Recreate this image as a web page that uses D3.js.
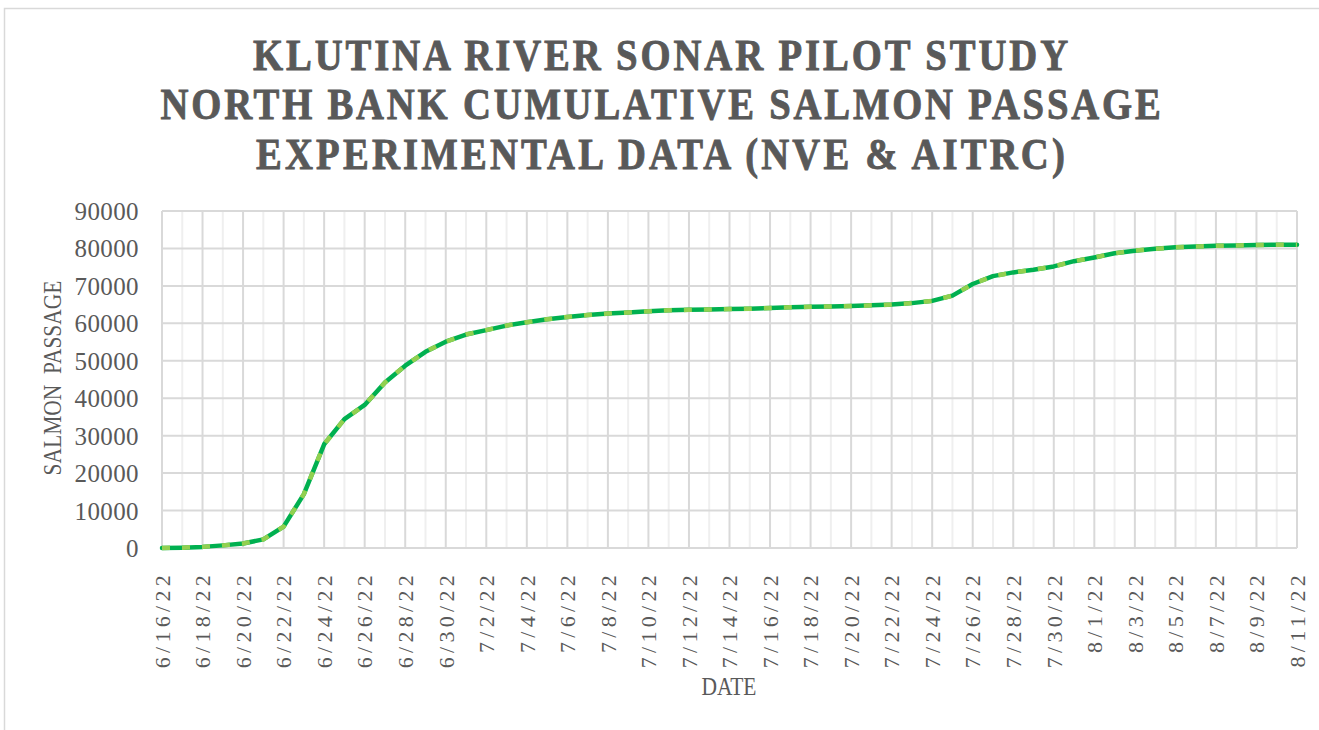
<!DOCTYPE html>
<html>
<head>
<meta charset="utf-8">
<script src="https://cdn.jsdelivr.net/npm/d3@7"></script>
<style>
  html, body { margin: 0; padding: 0; background: #fff; }
  svg { display: block; }
</style>
</head>
<body>
<svg id="chart" width="1319" height="730"></svg>
<script>
const titleLines = [
  "KLUTINA RIVER SONAR PILOT STUDY",
  "NORTH BANK CUMULATIVE SALMON PASSAGE",
  "EXPERIMENTAL DATA (NVE & AITRC)"
];
const yAxisTitle = "SALMON  PASSAGE";
const xAxisTitle = "DATE";

const dates = [
  "6/16/22","6/17/22","6/18/22","6/19/22","6/20/22","6/21/22","6/22/22","6/23/22",
  "6/24/22","6/25/22","6/26/22","6/27/22","6/28/22","6/29/22","6/30/22",
  "7/1/22","7/2/22","7/3/22","7/4/22","7/5/22","7/6/22","7/7/22","7/8/22","7/9/22",
  "7/10/22","7/11/22","7/12/22","7/13/22","7/14/22","7/15/22","7/16/22","7/17/22",
  "7/18/22","7/19/22","7/20/22","7/21/22","7/22/22","7/23/22","7/24/22","7/25/22",
  "7/26/22","7/27/22","7/28/22","7/29/22","7/30/22","7/31/22",
  "8/1/22","8/2/22","8/3/22","8/4/22","8/5/22","8/6/22","8/7/22","8/8/22",
  "8/9/22","8/10/22","8/11/22"
];

const passage = [
  0, 100, 300, 700, 1200, 2300, 5700, 14400,
  27700, 34400, 38200, 44200, 48700, 52400, 55100,
  57000, 58200, 59400, 60300, 61100, 61700, 62200, 62600, 62900,
  63200, 63500, 63600, 63700, 63800, 63900, 64100, 64300,
  64400, 64500, 64600, 64800, 65000, 65400, 66000, 67400,
  70500, 72600, 73600, 74300, 75200, 76600,
  77600, 78700, 79400, 79900, 80300, 80500, 80700, 80800,
  80900, 81000, 81000
];

const yTicks = [0, 10000, 20000, 30000, 40000, 50000, 60000, 70000, 80000, 90000];

const svg = d3.select("#chart");
const textColor = "#595959";
const gridColor = "#d9d9d9";
const minorGrid = "#efefef";
const serif = "'Liberation Serif', 'Times New Roman', serif";

const plot = { left: 162, right: 1297, top: 211, bottom: 548 };

const x = d3.scalePoint().domain(dates).range([plot.left, plot.right]);
const y = d3.scaleLinear().domain([0, 90000]).range([plot.bottom, plot.top]);

// chart border
svg.append("rect")
  .attr("x", 4.5).attr("y", 8.5).attr("width", 1340).attr("height", 760)
  .attr("fill", "none").attr("stroke", gridColor).attr("stroke-width", 1.5);

// vertical gridlines (every day; labelled days darker)
svg.append("g").selectAll("line").data(dates).join("line")
  .attr("x1", d => x(d)).attr("x2", d => x(d))
  .attr("y1", plot.top).attr("y2", plot.bottom)
  .attr("stroke", (d, i) => i % 2 === 0 ? gridColor : minorGrid)
  .attr("stroke-width", 2);

// horizontal gridlines
svg.append("g").selectAll("line").data(yTicks).join("line")
  .attr("x1", plot.left).attr("x2", plot.right)
  .attr("y1", d => y(d)).attr("y2", d => y(d))
  .attr("stroke", gridColor).attr("stroke-width", 2);

// Y axis labels
const yAxis = d3.axisLeft(y).tickValues(yTicks).tickSize(0).tickPadding(0).tickFormat(d3.format("d"));
const yg = svg.append("g").attr("transform", `translate(${plot.left - 23},0)`).call(yAxis);
yg.select(".domain").remove();
yg.selectAll("text")
  .attr("font-family", serif).attr("font-size", 25).attr("fill", textColor)
  .attr("letter-spacing", 0.4)
  .attr("dy", "0.34em");

// X axis labels (every second date)
const xLabelDates = dates.filter((d, i) => i % 2 === 0);
const xAxis = d3.axisBottom(x).tickValues(xLabelDates).tickSize(0).tickPadding(0);
const xg = svg.append("g").attr("transform", `translate(0,${plot.bottom})`).call(xAxis);
xg.select(".domain").remove();
xg.selectAll("text")
  .attr("font-family", serif).attr("font-size", 22).attr("fill", textColor)
  .attr("letter-spacing", 4.3)
  .attr("text-anchor", "end")
  .attr("transform", "rotate(-90)")
  .attr("x", -23).attr("y", 0).attr("dy", "0.33em");

// bottom axis line
svg.append("line")
  .attr("x1", plot.left).attr("x2", plot.right)
  .attr("y1", plot.bottom).attr("y2", plot.bottom)
  .attr("stroke", gridColor).attr("stroke-width", 2);

// lines
const line = d3.line().x((d, i) => x(dates[i])).y(d => y(d));
svg.append("path").datum(passage)
  .attr("d", line).attr("fill", "none")
  .attr("stroke", "#00b050").attr("stroke-width", 4.5)
  .attr("stroke-linejoin", "round").attr("stroke-linecap", "round");
svg.append("path").datum(passage)
  .attr("d", line).attr("fill", "none")
  .attr("stroke", "#92d050").attr("stroke-width", 4.5)
  .attr("stroke-dasharray", "8,12")
  .attr("stroke-linejoin", "round");

// helper: condensed text fitted to a width
function fitText(sel, target, squeeze) {
  const node = sel.node();
  const n = sel.text().length;
  const w0 = node.getComputedTextLength();
  const ls = Math.max(0, (target / squeeze - w0) / n);
  sel.attr("letter-spacing", ls);
}

// title
const titleBaselines = [69.5, 119, 168.5];
const titleWidths = [818, 1003, 812];
const squeeze = 0.86;
titleLines.forEach((t, i) => {
  const g = svg.append("g").attr("transform", `translate(662,${titleBaselines[i]}) scale(${squeeze},1)`);
  const tx = g.append("text").text(t)
    .attr("font-family", serif).attr("font-weight", "bold").attr("font-size", 45)
    .attr("fill", textColor).attr("stroke", textColor).attr("stroke-width", 0.9)
    .attr("text-anchor", "middle");
  fitText(tx, titleWidths[i], squeeze);
});

// y axis title
{
  const g = svg.append("g").attr("transform", `translate(61,378) rotate(-90)`);
  const tx = g.append("text").text(yAxisTitle)
    .attr("font-family", serif).attr("font-size", 26)
    .attr("fill", textColor).attr("text-anchor", "middle")
    .style("white-space", "pre");
  const w0 = tx.node().getComputedTextLength();
  g.attr("transform", `translate(61,378) rotate(-90) scale(${195 / w0},1)`);
}

// x axis title
{
  const g = svg.append("g").attr("transform", `translate(729,695) scale(0.86,1)`);
  g.append("text").text(xAxisTitle)
    .attr("font-family", serif).attr("font-size", 25)
    .attr("fill", textColor).attr("text-anchor", "middle");
}
</script>
</body>
</html>
